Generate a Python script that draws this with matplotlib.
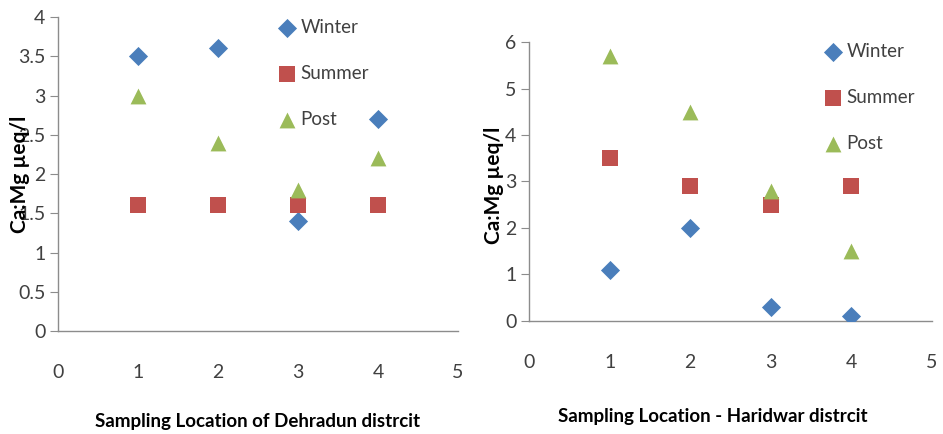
import matplotlib
matplotlib.use("Agg")
import matplotlib.pyplot as plt

plt.rcParams['font.family'] = ['Lato', 'DejaVu Sans']

locations = [1, 2, 3, 4]
series_names = ["Winter", "Summer", "Post"]

dehradun_winter = [3.5, 3.6, 1.4, 2.7]
dehradun_summer = [1.6, 1.6, 1.6, 1.6]
dehradun_post = [3.0, 2.4, 1.8, 2.2]

haridwar_winter = [1.1, 2.0, 0.3, 0.1]
haridwar_summer = [3.5, 2.9, 2.5, 2.9]
haridwar_post = [5.7, 4.5, 2.8, 1.5]

x_ticks = [0, 1, 2, 3, 4, 5]
left_y_ticks = [0, 0.5, 1, 1.5, 2, 2.5, 3, 3.5, 4]
right_y_ticks = [0, 1, 2, 3, 4, 5, 6]

colors = {"Winter": "#4A7EBB", "Summer": "#C0504D", "Post": "#9BBB59"}
markers = {"Winter": "D", "Summer": "s", "Post": "^"}
sizes = {"Winter": 95, "Summer": 125, "Post": 130}

fig = plt.figure(figsize=(9.43, 4.34), dpi=100)
ax1 = fig.add_axes([0.0615, 0.2373, 0.4242, 0.7235])
ax2 = fig.add_axes([0.561, 0.2604, 0.4273, 0.6428])

def style(ax, yticks, ylim, ylabel, xlabel, lab_pos, xlab_pos, leg_anchor, data):
    for name, vals in zip(series_names, data):
        ax.scatter(locations, vals, marker=markers[name], s=sizes[name],
                   color=colors[name], label=name, linewidths=0, zorder=3)
    ax.set_xlim(0, 5)
    ax.set_ylim(*ylim)
    ax.set_xticks(x_ticks)
    ax.set_yticks(yticks)
    ax.set_yticklabels([f"{t:g}" for t in yticks])
    for s in ["top", "right"]:
        ax.spines[s].set_visible(False)
    for s in ["left", "bottom"]:
        ax.spines[s].set_color("#8c8c8c")
        ax.spines[s].set_linewidth(1.0)
    ax.tick_params(axis="y", length=6, color="#8c8c8c", labelsize=14,
                   labelcolor="#404040", pad=3)
    ax.tick_params(axis="x", length=0, labelsize=14, labelcolor="#404040", pad=24)
    ax.set_ylabel(ylabel, fontsize=15, fontweight="bold", color="black")
    ax.yaxis.set_label_coords(*lab_pos)
    ax.set_xlabel(xlabel, fontsize=13.5, fontweight="bold", color="black")
    ax.xaxis.set_label_coords(*xlab_pos)
    leg = ax.legend(loc="upper left", bbox_to_anchor=leg_anchor, frameon=False,
                    fontsize=13.5, labelspacing=1.55, handlelength=1.0,
                    handletextpad=0.2, borderaxespad=0, borderpad=0,
                    scatterpoints=1, labelcolor="#404040")
    return leg

style(ax1, left_y_ticks, (0, 4), "Ca:Mg µeq/l",
      "Sampling Location of Dehradun distrcit",
      (-0.07, 0.5), (0.5, -0.262), (0.55, 0.995),
      [dehradun_winter, dehradun_summer, dehradun_post])
style(ax2, right_y_ticks, (0, 6), "Ca:Mg µeq/l",
      "Sampling Location - Haridwar distrcit",
      (-0.062, 0.487), (0.457, -0.313), (0.732, 0.997),
      [haridwar_winter, haridwar_summer, haridwar_post])

fig.savefig("out.png", dpi=100, facecolor="white")
